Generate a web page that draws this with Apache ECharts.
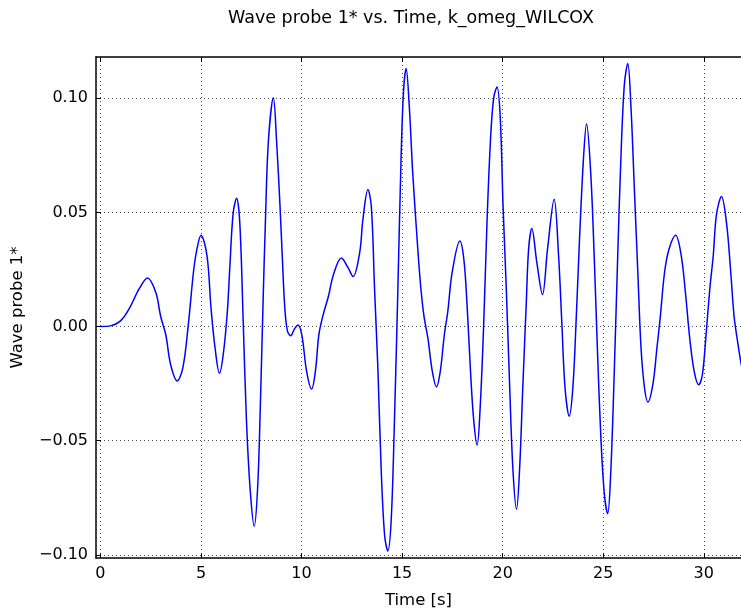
<!DOCTYPE html>
<html>
<head>
<meta charset="utf-8">
<script src="https://cdn.jsdelivr.net/npm/echarts@6/dist/echarts.min.js"></script>
<style>
  html, body { margin: 0; padding: 0; background: #fff; }
  #chart { width: 741px; height: 614px; }
</style>
</head>
<body>
<div id="chart"></div>
<script>
// Wave probe 1* elevation sampled over time (k-omega Wilcox run)
const timeS = [
  0, 0.5, 1.0, 1.44, 1.93, 2.34, 2.75, 3.0, 3.25, 3.49, 3.82, 4.1, 4.36, 4.64, 4.8, 5.0,
  5.3, 5.5, 5.7, 5.92, 6.11, 6.31, 6.44, 6.6, 6.77, 6.93, 7.1, 7.26, 7.45, 7.65, 7.82, 7.95,
  8.1, 8.2, 8.35, 8.6, 8.76, 8.93, 9.04, 9.17, 9.3, 9.46, 9.65, 9.83, 10.02, 10.25, 10.5, 10.69,
  10.86, 11.07, 11.35, 11.57, 11.98, 12.3, 12.56, 12.89, 13.05, 13.3, 13.47, 13.63, 13.8, 13.96,
  14.13, 14.29, 14.46, 14.62, 14.79, 14.95, 15.07, 15.2, 15.36, 15.53, 15.78, 15.92, 16.08, 16.28,
  16.5, 16.71, 16.9, 17.1, 17.27, 17.49, 17.87, 18.07, 18.23, 18.4, 18.56, 18.73, 18.89, 19.06,
  19.22, 19.39, 19.55, 19.72, 19.88, 20.02, 20.18, 20.35, 20.51, 20.69, 20.84, 21.0, 21.17, 21.29,
  21.45, 21.7, 21.98, 22.23, 22.56, 22.78, 22.94, 23.1, 23.31, 23.49, 23.65, 23.82, 24.02, 24.17,
  24.38, 24.55, 24.72, 24.88, 25.05, 25.22, 25.38, 25.55, 25.72, 25.88, 26.05, 26.22, 26.38, 26.55,
  26.72, 26.88, 27.05, 27.22, 27.47, 27.67, 27.83, 28.05, 28.27, 28.6, 28.88, 29.1, 29.3, 29.52,
  29.75, 29.93, 30.1, 30.3, 30.47, 30.63, 30.88, 31.13, 31.33, 31.5, 31.63, 31.85, 32.0
];
const probe1 = [
  0.0, 0.0003, 0.0025, 0.008, 0.0166, 0.0213, 0.015, 0.0043, -0.0036, -0.0166, -0.0238, -0.018, 0.0, 0.025, 0.034, 0.040,
  0.031, 0.008, -0.0094, -0.0205, -0.012, 0.0065, 0.027, 0.0497, 0.0562, 0.0454, 0.002, -0.041, -0.072, -0.0875, -0.070, -0.035,
  0.015, 0.045, 0.081, 0.1002, 0.081, 0.0526, 0.031, 0.0079, -0.002, -0.004, -0.001, 0.0007, -0.004, -0.0195, -0.0274, -0.0195,
  -0.0036, 0.005, 0.0137, 0.0223, 0.030, 0.026, 0.0219, 0.0324, 0.0468, 0.060, 0.0526, 0.0166, -0.0195, -0.0627,
  -0.0915, -0.0983, -0.0843, -0.041, 0.0166, 0.0742, 0.103, 0.1131, 0.096, 0.067, 0.034, 0.018, 0.005, -0.005,
  -0.0195, -0.0264, -0.0195, -0.0036, 0.0065, 0.0238, 0.0375, 0.0295, 0.0094, -0.0195, -0.041, -0.0519, -0.0339, 0.002,
  0.0454, 0.081, 0.100, 0.105, 0.0915, 0.0526, 0.0166, -0.0267, -0.0627, -0.080, -0.0627, -0.0267, 0.0094, 0.0339,
  0.043, 0.028, 0.014, 0.0339, 0.0558, 0.031, 0.002, -0.0267, -0.0393, -0.0267, 0.002, 0.038, 0.074, 0.0889,
  0.067, 0.031, -0.0122, -0.048, -0.0728, -0.082, -0.0627, -0.0195, 0.031, 0.0742, 0.106, 0.1153, 0.096, 0.0598,
  0.0238, -0.0094, -0.0267, -0.0331, -0.0252, -0.0094, 0.0036, 0.0238, 0.0339, 0.040, 0.031, 0.0137, -0.005, -0.0195,
  -0.0255, -0.021, -0.005, 0.0166, 0.031, 0.049, 0.057, 0.0454, 0.025, 0.005, -0.0036, -0.0159, -0.022
];
const xTicks = [0, 5, 10, 15, 20, 25, 30];
const yTicks = [-0.10, -0.05, 0.00, 0.05, 0.10];

const FONT = 'DejaVu Sans';
const seriesData = timeS.map((t, i) => [t, probe1[i]]);

const gridDots = { show: true, lineStyle: { color: '#000', width: 1, type: [1, 3], opacity: 0.7 } };
const spine = { show: true, onZero: false, lineStyle: { color: '#000', width: 1.5 } };

function fmtY(v) {
  if (Math.abs(v) < 1e-9) return '0.00';
  return (v < 0 ? '\u2212' : '') + Math.abs(v).toFixed(2);
}

const chart = echarts.init(document.getElementById('chart'), null, { renderer: 'canvas' });
chart.setOption({
  animation: false,
  backgroundColor: '#fff',
  title: {
    text: 'Wave probe 1* vs. Time, k_omeg_WILCOX',
    left: 406, top: 4, textAlign: 'center',
    textStyle: { fontFamily: FONT, fontSize: 17.5, fontWeight: 'normal', color: '#000' }
  },
  grid: { left: 96, right: 0, top: 57, bottom: 52, containLabel: false },
  xAxis: [
    {
      type: 'value', position: 'bottom', min: -0.22, max: 31.85,
      axisLine: spine,
      axisTick: { show: true, inside: true, length: 5, customValues: xTicks, lineStyle: { color: '#000' } },
      axisLabel: { customValues: xTicks, fontFamily: FONT, fontSize: 16, color: '#000', margin: 8 },
      splitLine: gridDots,
      name: 'Time [s]', nameLocation: 'middle', nameGap: 34,
      nameTextStyle: { fontFamily: FONT, fontSize: 16.5, color: '#000' }
    },
    {
      type: 'value', position: 'top', min: -0.22, max: 31.85,
      axisLine: spine,
      axisTick: { show: true, inside: true, length: 5, customValues: xTicks, lineStyle: { color: '#000' } },
      axisLabel: { show: false },
      splitLine: { show: false }
    }
  ],
  yAxis: {
    type: 'value', min: -0.1014, max: 0.1181,
    axisLine: spine,
    axisTick: { show: true, inside: true, length: 5, customValues: yTicks, lineStyle: { color: '#000' } },
    axisLabel: { customValues: yTicks, formatter: fmtY, fontFamily: FONT, fontSize: 16, color: '#000', margin: 8 },
    splitLine: gridDots,
    name: 'Wave probe 1*', nameLocation: 'middle', nameGap: 70, nameRotate: 90,
    nameTextStyle: { fontFamily: FONT, fontSize: 16.5, color: '#000' }
  },
  series: [{
    type: 'line',
    xAxisIndex: 0,
    data: seriesData,
    showSymbol: false,
    smooth: 0.35,
    clip: true,
    lineStyle: { color: '#0000ff', width: 1.5 }
  }]
});
</script>
</body>
</html>
